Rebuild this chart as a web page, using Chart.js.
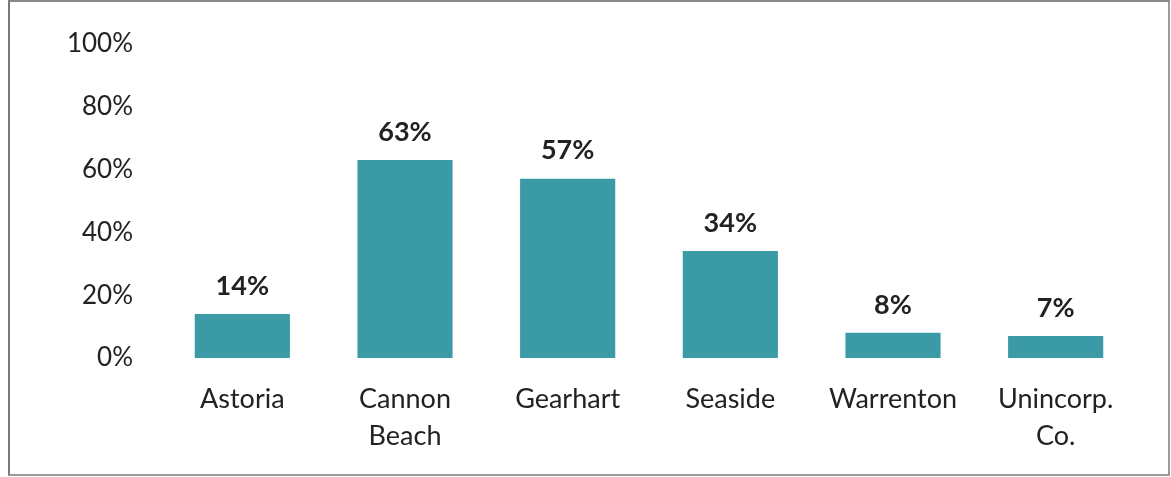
<!DOCTYPE html>
<html>
<head>
<meta charset="utf-8">
<script src="https://cdn.jsdelivr.net/npm/chart.js@4.4.1/dist/chart.umd.min.js"></script>
<style>
  html, body { margin: 0; padding: 0; background: #fff; }
  #wrap { position: relative; width: 1171px; height: 477px; }
  #frame {
    position: absolute; left: 8px; top: 0; width: 1158px; height: 472px;
    border: 2px solid #9a9a9a; border-top-color: #888; border-left-color: #7a7a7a;
    pointer-events: none;
  }
  canvas { position: absolute; left: 0; top: 0; }
</style>
</head>
<body>
<div id="wrap">
  <canvas id="shareChart" width="1171" height="477"></canvas>
  <div id="frame"></div>
</div>
<script>
const places = [['Astoria'], ['Cannon', 'Beach'], ['Gearhart'], ['Seaside'], ['Warrenton'], ['Unincorp.', 'Co.']];
const shares = [14, 63, 57, 34, 8, 7];
const yTicks = [0, 20, 40, 60, 80, 100];

const barColor = '#3a9ba7';
const textColor = '#222';
const fontFamily = 'Lato, "Open Sans", sans-serif';

// Percent labels above each bar
const valueLabels = {
    id: 'valueLabels',
    afterDatasetsDraw(chart) {
        const ctx = chart.ctx;
        const meta = chart.getDatasetMeta(0);
        ctx.save();
        ctx.font = 'bold 27px ' + fontFamily;
        ctx.fillStyle = textColor;
        ctx.textAlign = 'center';
        ctx.textBaseline = 'middle';
        meta.data.forEach(function(bar, i) {
            ctx.fillText(shares[i] + '%', bar.x, bar.y - 28);
        });
        ctx.restore();
    }
};

const ctx = document.getElementById('shareChart').getContext('2d');
new Chart(ctx, {
    type: 'bar',
    data: {
        labels: places,
        datasets: [{
            data: shares,
            backgroundColor: barColor,
            borderWidth: 0,
            categoryPercentage: 1,
            barPercentage: 0.585
        }]
    },
    options: {
        responsive: false,
        animation: false,
        layout: { padding: { top: 40, right: 34, bottom: 0, left: 0 } },
        plugins: {
            legend: { display: false },
            tooltip: { enabled: false }
        },
        scales: {
            y: {
                min: 0,
                max: 100,
                afterFit: function(scale) { scale.width = 161; },
                afterBuildTicks: function(scale) {
                    scale.ticks = yTicks.map(function(v) { return { value: v }; });
                },
                grid: { display: false, drawTicks: false },
                border: { display: false },
                ticks: {
                    padding: 28,
                    color: textColor,
                    font: { family: fontFamily, size: 26 },
                    callback: function(value) { return value + '%'; }
                }
            },
            x: {
                afterFit: function(scale) { scale.height = 119; },
                grid: { display: false, drawTicks: false },
                border: { display: false },
                ticks: {
                    padding: 23,
                    maxRotation: 0,
                    autoSkip: false,
                    color: textColor,
                    font: { family: fontFamily, size: 27, lineHeight: 1.37 }
                }
            }
        }
    },
    plugins: [valueLabels]
});
</script>
</body>
</html>
